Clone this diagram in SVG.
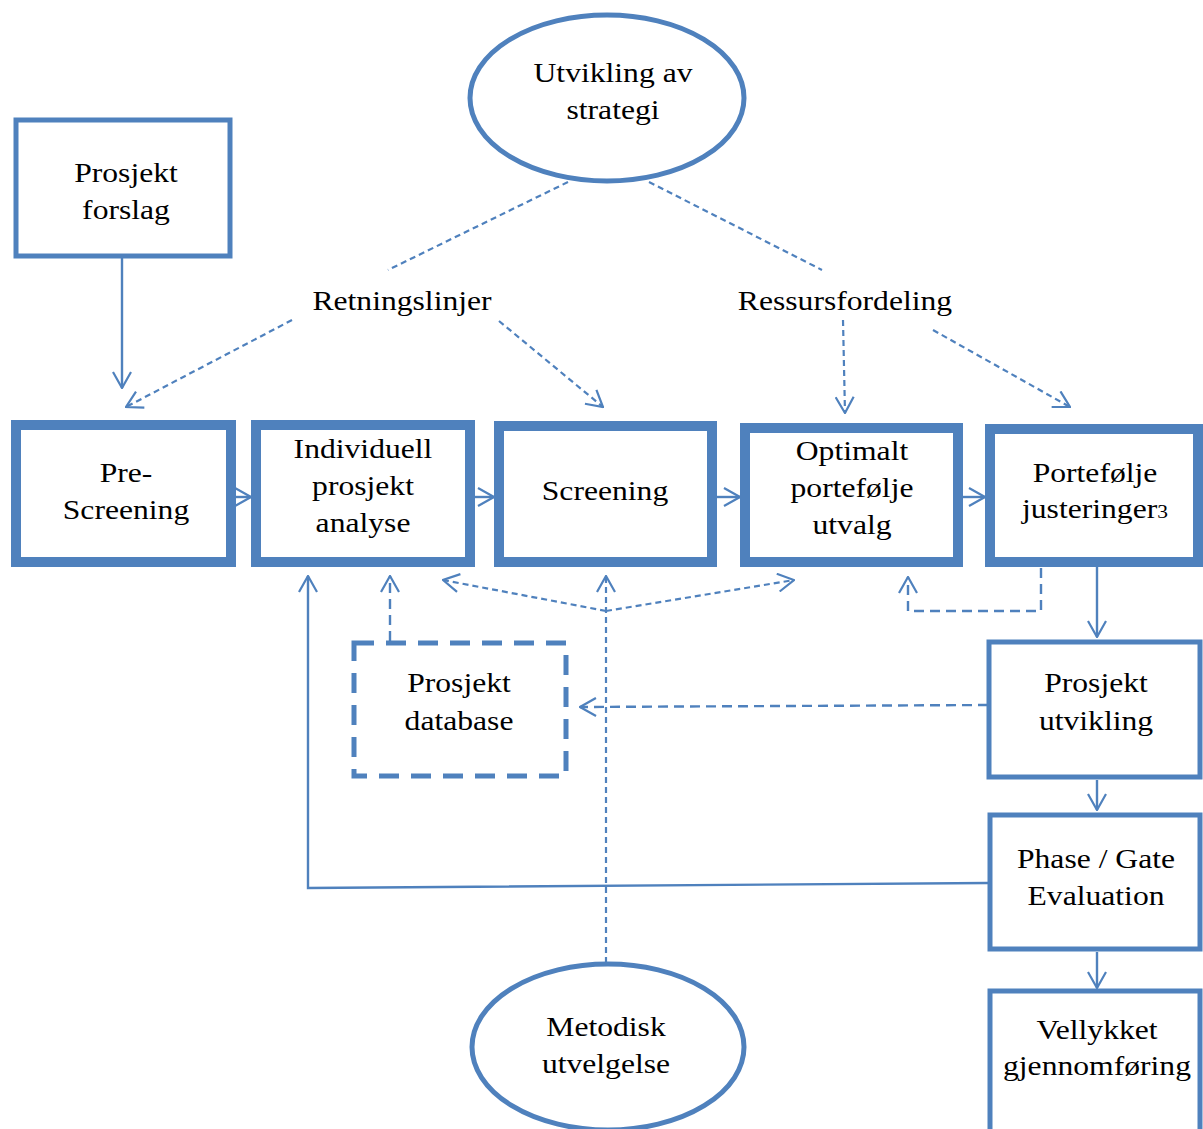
<svg xmlns="http://www.w3.org/2000/svg" width="1203" height="1129" viewBox="0 0 1203 1129">
  <style>
    .bg { fill: #ffffff; }
    .box { fill: #ffffff; stroke: #4F81BD; stroke-width: 5; }
    .box-main { fill: #ffffff; stroke: #4F81BD; stroke-width: 10; }
    .box-db { fill: #ffffff; stroke: #4F81BD; stroke-width: 5; stroke-dasharray: 20 12; }
    .oval { fill: #ffffff; stroke: #4F81BD; stroke-width: 5; }
    .lbl { font-family: "Liberation Serif", "Times New Roman", serif; font-size: 28px; fill: #000000; text-anchor: middle; }
    .solid { fill: none; stroke: #4F81BD; stroke-width: 2.4; }
    .dash { fill: none; stroke: #4F81BD; stroke-width: 2.2; stroke-dasharray: 6 4; }
    .dash-long { fill: none; stroke: #4F81BD; stroke-width: 2.4; stroke-dasharray: 10 6; }
  </style>
  <defs>
    <marker id="arrow" viewBox="0 0 20 20" refX="19" refY="10" markerWidth="20" markerHeight="20" markerUnits="userSpaceOnUse" orient="auto">
      <path d="M3,1 L19,10 L3,19" fill="none" stroke="#4F81BD" stroke-width="2.2"/>
    </marker>
  </defs>

  <rect class="bg" x="0" y="0" width="1203" height="1129"/>

  <!-- connectors -->
  <g id="connectors">
    <!-- strategy to the two guide labels -->
    <line class="dash" x1="568" y1="182" x2="388" y2="270"/>
    <line class="dash" x1="649" y1="182" x2="822" y2="270"/>
    <!-- guide labels to the process row -->
    <line class="dash" x1="292" y1="320" x2="126" y2="407" marker-end="url(#arrow)"/>
    <line class="dash" x1="499" y1="321" x2="603" y2="407" marker-end="url(#arrow)"/>
    <line class="dash" x1="843" y1="320" x2="845" y2="413" marker-end="url(#arrow)"/>
    <line class="dash" x1="933" y1="330" x2="1070" y2="407" marker-end="url(#arrow)"/>
    <!-- proposal into pre-screening -->
    <line class="solid" x1="122" y1="258" x2="122" y2="388" marker-end="url(#arrow)"/>
    <!-- process row -->
    <line class="solid" x1="236" y1="497" x2="251" y2="497" marker-end="url(#arrow)"/>
    <line class="solid" x1="475" y1="497" x2="494" y2="497" marker-end="url(#arrow)"/>
    <line class="solid" x1="717" y1="497" x2="740" y2="497" marker-end="url(#arrow)"/>
    <line class="solid" x1="963" y1="497" x2="985" y2="497" marker-end="url(#arrow)"/>
    <!-- method selection feeding the row -->
    <line class="dash" x1="606" y1="963" x2="606" y2="576" marker-end="url(#arrow)"/>
    <line class="dash" x1="606" y1="611" x2="443" y2="580" marker-end="url(#arrow)"/>
    <line class="dash" x1="606" y1="611" x2="794" y2="580" marker-end="url(#arrow)"/>
    <!-- database to analysis -->
    <line class="dash-long" x1="390" y1="641" x2="390" y2="576" marker-end="url(#arrow)"/>
    <!-- development back into database -->
    <line class="dash-long" x1="988" y1="705" x2="580" y2="707" marker-end="url(#arrow)"/>
    <!-- adjustments back to portfolio selection -->
    <polyline class="dash-long" points="1041,568 1041,611 908,611 908,577" marker-end="url(#arrow)"/>
    <!-- right column flow -->
    <line class="solid" x1="1097" y1="567" x2="1097" y2="637" marker-end="url(#arrow)"/>
    <line class="solid" x1="1097" y1="780" x2="1097" y2="810" marker-end="url(#arrow)"/>
    <line class="solid" x1="1097" y1="952" x2="1097" y2="988" marker-end="url(#arrow)"/>
    <!-- gate evaluation back to analysis -->
    <polyline class="solid" points="988,883 308,888 308,576" marker-end="url(#arrow)"/>
  </g>

  <g id="strategi">
    <ellipse class="oval" cx="607" cy="98" rx="137" ry="83"/>
    <text class="lbl" transform="translate(613 0) scale(1.13 1)"><tspan x="0" y="82">Utvikling av</tspan><tspan x="0" y="119">strategi</tspan></text>
  </g>

  <g id="retningslinjer">
    <text class="lbl" transform="translate(402 0) scale(1.13 1)"><tspan x="0" y="310">Retningslinjer</tspan></text>
  </g>

  <g id="ressursfordeling">
    <text class="lbl" transform="translate(845 0) scale(1.13 1)"><tspan x="0" y="310">Ressursfordeling</tspan></text>
  </g>

  <g id="prosjekt-forslag">
    <rect class="box" x="16" y="120" width="214" height="136"/>
    <text class="lbl" transform="translate(126 0) scale(1.13 1)"><tspan x="0" y="182">Prosjekt</tspan><tspan x="0" y="219">forslag</tspan></text>
  </g>

  <g id="pre-screening">
    <rect class="box-main" x="16" y="425" width="215" height="137"/>
    <text class="lbl" transform="translate(126 0) scale(1.13 1)"><tspan x="0" y="482">Pre-</tspan><tspan x="0" y="519">Screening</tspan></text>
  </g>

  <g id="individuell-analyse">
    <rect class="box-main" x="256" y="425" width="214" height="137"/>
    <text class="lbl" transform="translate(363 0) scale(1.13 1)"><tspan x="0" y="458">Individuell</tspan><tspan x="0" y="495">prosjekt</tspan><tspan x="0" y="532">analyse</tspan></text>
  </g>

  <g id="screening">
    <rect class="box-main" x="499" y="426" width="213" height="136"/>
    <text class="lbl" transform="translate(605 0) scale(1.13 1)"><tspan x="0" y="500">Screening</tspan></text>
  </g>

  <g id="optimalt-utvalg">
    <rect class="box-main" x="745" y="428" width="213" height="134"/>
    <text class="lbl" transform="translate(852 0) scale(1.13 1)"><tspan x="0" y="460">Optimalt</tspan><tspan x="0" y="497">portefølje</tspan><tspan x="0" y="534">utvalg</tspan></text>
  </g>

  <g id="portefolje-justeringer">
    <rect class="box-main" x="990" y="429" width="208" height="133"/>
    <text class="lbl" transform="translate(1095 0) scale(1.13 1)"><tspan x="0" y="482">Portefølje</tspan><tspan x="0" y="518">justeringer<tspan font-size="19px">3</tspan></tspan></text>
  </g>

  <g id="prosjekt-database">
    <rect class="box-db" x="354" y="643" width="212" height="133"/>
    <text class="lbl" transform="translate(459 0) scale(1.13 1)"><tspan x="0" y="692">Prosjekt</tspan><tspan x="0" y="730">database</tspan></text>
  </g>

  <g id="prosjekt-utvikling">
    <rect class="box" x="989" y="642" width="211" height="135"/>
    <text class="lbl" transform="translate(1096 0) scale(1.13 1)"><tspan x="0" y="692">Prosjekt</tspan><tspan x="0" y="730">utvikling</tspan></text>
  </g>

  <g id="phase-gate">
    <rect class="box" x="990" y="815" width="210" height="134"/>
    <text class="lbl" transform="translate(1096 0) scale(1.13 1)"><tspan x="0" y="868">Phase / Gate</tspan><tspan x="0" y="905">Evaluation</tspan></text>
  </g>

  <g id="vellykket">
    <rect class="box" x="990" y="991" width="210" height="145"/>
    <text class="lbl" transform="translate(1097 0) scale(1.13 1)"><tspan x="0" y="1039">Vellykket</tspan><tspan x="0" y="1075">gjennomføring</tspan></text>
  </g>

  <g id="metodisk-utvelgelse">
    <ellipse class="oval" cx="608" cy="1047" rx="136" ry="83"/>
    <text class="lbl" transform="translate(606 0) scale(1.13 1)"><tspan x="0" y="1036">Metodisk</tspan><tspan x="0" y="1073">utvelgelse</tspan></text>
  </g>
</svg>
